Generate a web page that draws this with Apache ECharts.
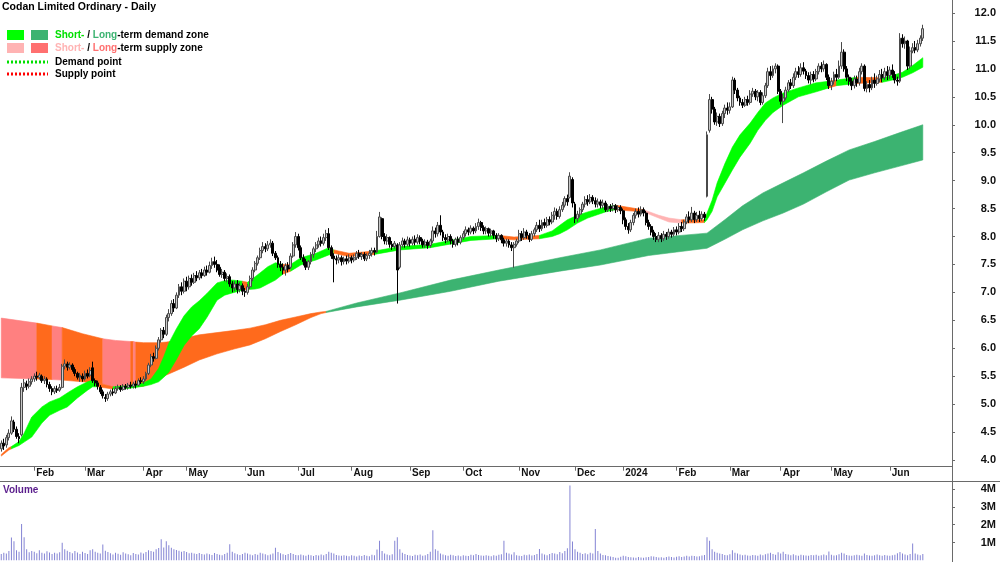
<!DOCTYPE html>
<html><head><meta charset="utf-8">
<script src="https://cdn.jsdelivr.net/npm/echarts@6/dist/echarts.min.js"></script>
<style>html,body{margin:0;padding:0;background:#fff}#c{width:1000px;height:562px}</style>
</head><body><div id="c"></div>
<script>
const chartTitle = 'Codan Limited Ordinary - Daily';
const holidays = ['2023-01-26','2023-04-07','2023-04-10','2023-04-25','2023-06-12','2023-12-25','2023-12-26','2024-01-01','2024-01-26','2024-03-29','2024-04-01','2024-04-25','2024-06-10'];
const firstDay = [2023, 0, 12];
const totalSlots = 375;
const monthNames = ['Jan','Feb','Mar','Apr','May','Jun','Jul','Aug','Sep','Oct','Nov','Dec'];
const priceTicks = [4.0,4.5,5.0,5.5,6.0,6.5,7.0,7.5,8.0,8.5,9.0,9.5,10.0,10.5,11.0,11.5,12.0];
const volumeTicks = [1e6,2e6,3e6,4e6];

// [open, close, low, high] per trading day
const candles = [
// Jan 2023
[4.20,4.30,4.15,4.35],[4.30,4.25,4.18,4.38],[4.27,4.40,4.22,4.45],[4.40,4.48,4.35,4.55],[4.48,4.70,4.45,4.78],
[4.68,4.55,4.50,4.72],[4.55,4.42,4.38,4.60],[4.42,4.38,4.30,4.48],[4.45,5.30,4.42,5.38],[5.30,5.38,5.22,5.45],
[5.36,5.32,5.25,5.42],[5.32,5.40,5.28,5.46],[5.40,5.45,5.35,5.50],
// Feb
[5.45,5.50,5.40,5.55],[5.50,5.48,5.42,5.58],[5.48,5.52,5.44,5.56],[5.50,5.42,5.38,5.53],[5.42,5.45,5.36,5.50],
[5.45,5.35,5.30,5.48],[5.35,5.28,5.22,5.40],[5.28,5.22,5.16,5.32],[5.22,5.28,5.18,5.32],[5.27,5.25,5.20,5.33],
[5.25,5.30,5.22,5.36],[5.30,5.68,5.28,5.72],[5.68,5.72,5.62,5.80],[5.72,5.66,5.60,5.76],[5.66,5.70,5.62,5.75],
[5.70,5.62,5.58,5.73],[5.62,5.55,5.50,5.66],[5.55,5.48,5.44,5.58],[5.48,5.52,5.40,5.56],[5.50,5.45,5.40,5.55],
// Mar
[5.45,5.55,5.42,5.60],[5.55,5.50,5.46,5.62],[5.52,5.60,5.48,5.66],[5.65,5.42,5.38,5.76],[5.42,5.38,5.32,5.46],
[5.38,5.32,5.26,5.42],[5.30,5.22,5.18,5.34],[5.22,5.15,5.10,5.26],[5.12,5.10,5.04,5.18],[5.10,5.18,5.06,5.22],
[5.18,5.22,5.14,5.26],[5.22,5.20,5.15,5.28],[5.20,5.28,5.18,5.32],[5.28,5.30,5.24,5.35],[5.30,5.26,5.22,5.34],
[5.26,5.32,5.24,5.36],[5.32,5.30,5.26,5.36],[5.30,5.34,5.26,5.38],[5.34,5.32,5.28,5.40],[5.32,5.36,5.28,5.40],
[5.36,5.34,5.28,5.42],[5.34,5.42,5.32,5.46],[5.42,5.40,5.36,5.48],
// Apr
[5.40,5.45,5.36,5.50],[5.45,5.55,5.42,5.58],[5.55,5.70,5.52,5.74],[5.70,5.85,5.66,5.90],[5.85,5.82,5.76,5.92],
[5.82,6.00,5.80,6.05],[6.00,6.15,5.96,6.20],[6.15,6.32,6.10,6.36],[6.32,6.25,6.18,6.38],[6.25,6.55,6.22,6.60],
[6.55,6.62,6.48,6.70],[6.62,6.80,6.58,6.86],[6.80,6.72,6.65,6.88],[6.72,6.95,6.70,7.00],[6.95,7.10,6.90,7.15],
[7.10,7.02,6.95,7.18],[7.02,7.20,6.98,7.25],
// May
[7.20,7.10,7.02,7.28],[7.10,7.25,7.05,7.30],[7.25,7.18,7.12,7.32],[7.18,7.30,7.15,7.35],[7.30,7.26,7.20,7.38],
[7.26,7.35,7.22,7.40],[7.35,7.30,7.25,7.42],[7.30,7.40,7.28,7.46],[7.40,7.36,7.30,7.48],[7.36,7.48,7.34,7.55],
[7.48,7.55,7.42,7.62],[7.55,7.50,7.44,7.64],[7.50,7.40,7.36,7.58],[7.45,7.32,7.28,7.50],[7.32,7.36,7.26,7.42],
[7.36,7.25,7.20,7.40],[7.25,7.28,7.18,7.34],[7.28,7.15,7.10,7.32],[7.15,7.08,7.00,7.20],[7.08,7.15,7.02,7.20],
[7.15,7.05,6.98,7.22],[7.05,7.12,7.00,7.18],[7.12,7.02,6.95,7.16],
// Jun
[7.02,7.00,6.92,7.08],[7.00,7.10,6.96,7.15],[7.10,7.25,7.06,7.30],[7.25,7.40,7.20,7.45],[7.40,7.52,7.36,7.56],
[7.52,7.62,7.48,7.66],[7.62,7.75,7.58,7.80],[7.75,7.82,7.70,7.90],[7.82,7.78,7.72,7.88],[7.78,7.85,7.74,7.92],
[7.85,7.88,7.80,7.95],[7.88,7.70,7.65,7.92],[7.70,7.62,7.58,7.74],[7.62,7.50,7.44,7.66],[7.50,7.45,7.38,7.56],
[7.45,7.40,7.32,7.52],[7.40,7.48,7.30,7.52],[7.48,7.42,7.36,7.54],[7.45,7.65,7.42,7.70],[7.65,7.85,7.62,7.90],
[7.85,8.00,7.80,8.08],
// Jul
[8.00,7.80,7.75,8.05],[7.80,7.62,7.58,7.84],[7.62,7.55,7.48,7.68],[7.55,7.45,7.40,7.60],[7.45,7.55,7.40,7.58],
[7.55,7.68,7.50,7.72],[7.68,7.78,7.62,7.82],[7.78,7.85,7.72,7.90],[7.85,7.92,7.80,7.98],[7.92,7.88,7.82,8.00],
[7.88,7.98,7.84,8.05],[7.98,8.05,7.92,8.12],[8.05,7.80,7.76,8.15],[7.80,7.65,7.60,7.84],[7.65,7.60,7.18,7.70],
[7.60,7.58,7.50,7.66],[7.58,7.62,7.52,7.68],[7.62,7.55,7.48,7.66],[7.55,7.60,7.50,7.64],[7.60,7.56,7.50,7.66],
[7.56,7.62,7.52,7.68],
// Aug
[7.62,7.58,7.52,7.66],[7.58,7.62,7.54,7.68],[7.62,7.70,7.58,7.74],[7.70,7.64,7.60,7.76],[7.64,7.68,7.58,7.72],
[7.68,7.60,7.56,7.72],[7.60,7.66,7.56,7.70],[7.66,7.70,7.60,7.76],[7.70,7.75,7.64,7.80],[7.75,7.72,7.66,7.80],
[7.72,8.00,7.70,8.10],[8.00,8.35,7.98,8.44],[8.32,8.00,7.95,8.34],[8.00,7.92,7.86,8.06],[7.92,7.98,7.85,8.04],
[7.98,7.86,7.80,8.00],[7.86,7.82,7.76,7.92],[7.82,7.88,7.78,7.92],[7.85,7.40,6.80,7.88],[7.45,7.85,7.42,7.90],
[7.85,7.92,7.80,7.98],[7.92,7.86,7.80,7.96],[7.86,7.94,7.82,8.00],
// Sep
[7.94,7.88,7.82,7.98],[7.88,7.95,7.84,8.00],[7.95,7.90,7.84,8.02],[7.90,7.98,7.86,8.04],[7.98,7.92,7.86,8.02],
[7.92,7.85,7.80,7.96],[7.85,7.90,7.80,7.95],[7.90,7.84,7.78,7.94],[7.84,7.92,7.80,7.96],[7.92,8.10,7.88,8.18],
[8.10,8.05,7.98,8.16],[8.05,8.20,8.00,8.26],[8.20,8.08,8.02,8.38],[8.08,7.98,7.92,8.12],[7.98,7.94,7.88,8.04],
[7.94,8.00,7.90,8.05],[8.00,7.92,7.86,8.04],[7.92,7.86,7.80,7.96],[7.86,7.95,7.82,7.98],[7.95,7.90,7.84,8.00],
[7.90,7.98,7.86,8.02],
// Oct
[7.98,8.05,7.94,8.10],[8.05,8.12,8.00,8.18],[8.12,8.08,8.02,8.16],[8.08,8.15,8.04,8.20],[8.15,8.10,8.04,8.18],
[8.10,8.18,8.06,8.24],[8.18,8.25,8.12,8.32],[8.25,8.16,8.10,8.28],[8.16,8.10,8.04,8.20],[8.10,8.14,8.04,8.18],
[8.14,8.06,8.00,8.16],[8.06,8.10,8.00,8.14],[8.10,8.02,7.96,8.12],[8.02,7.96,7.90,8.06],[7.96,8.02,7.92,8.06],
[8.02,7.94,7.88,8.04],[7.94,7.88,7.82,7.98],[7.88,7.92,7.82,7.96],[7.92,7.85,7.80,7.95],[7.85,7.80,7.74,7.90],
[7.80,7.86,7.44,7.90],[7.86,7.92,7.82,7.96],
// Nov
[7.92,8.05,7.88,8.12],[8.05,7.98,7.92,8.10],[7.98,8.08,7.94,8.15],[8.08,8.02,7.96,8.12],[8.02,7.95,7.90,8.06],
[7.95,8.05,7.92,8.10],[8.05,8.12,8.00,8.16],[8.12,8.20,8.08,8.26],[8.20,8.14,8.08,8.30],[8.14,8.25,8.10,8.30],
[8.25,8.20,8.15,8.32],[8.20,8.30,8.16,8.35],[8.30,8.26,8.20,8.36],[8.26,8.38,8.22,8.44],[8.38,8.45,8.30,8.52],
[8.45,8.36,8.30,8.50],[8.36,8.48,8.32,8.54],[8.48,8.56,8.44,8.62],[8.56,8.68,8.52,8.72],[8.68,8.62,8.55,8.75],
[8.70,9.08,8.68,9.15],[9.02,8.60,8.52,9.06],
// Dec
[8.58,8.32,8.24,8.62],[8.32,8.40,8.26,8.46],[8.40,8.48,8.34,8.52],[8.48,8.58,8.44,8.62],[8.58,8.66,8.52,8.72],
[8.66,8.62,8.55,8.74],[8.62,8.70,8.58,8.76],[8.70,8.64,8.58,8.74],[8.64,8.58,8.52,8.70],[8.58,8.62,8.52,8.68],
[8.62,8.56,8.50,8.66],[8.56,8.60,8.50,8.66],[8.60,8.48,8.44,8.64],[8.48,8.54,8.44,8.58],[8.54,8.50,8.44,8.58],
[8.50,8.55,8.45,8.60],[8.55,8.48,8.42,8.58],[8.48,8.52,8.44,8.56],[8.52,8.46,8.40,8.56],
// Jan 2024
[8.46,8.30,8.22,8.50],[8.30,8.18,8.12,8.34],[8.18,8.12,8.05,8.24],[8.12,8.25,8.08,8.30],[8.25,8.38,8.20,8.42],
[8.38,8.45,8.32,8.50],[8.45,8.40,8.34,8.52],[8.40,8.48,8.36,8.54],[8.48,8.42,8.36,8.52],[8.42,8.25,8.20,8.46],
[8.25,8.18,8.12,8.30],[8.18,8.08,8.02,8.22],[8.08,8.00,7.94,8.12],[8.00,7.95,7.90,8.06],[7.95,8.02,7.90,8.08],
[8.02,7.96,7.90,8.06],[7.96,8.04,7.92,8.10],[8.04,8.00,7.94,8.08],[8.00,8.08,7.96,8.14],[8.08,8.04,7.98,8.12],
[8.04,8.12,8.00,8.17],
// Feb
[8.12,8.08,8.02,8.18],[8.08,8.18,8.04,8.24],[8.18,8.14,8.08,8.26],[8.14,8.26,8.10,8.30],[8.26,8.35,8.22,8.40],
[8.35,8.30,8.24,8.45],[8.30,8.42,8.26,8.53],[8.42,8.30,8.24,8.46],[8.30,8.38,8.26,8.44],[8.38,8.32,8.26,8.46],
[8.32,8.40,8.28,8.45],[8.40,8.34,8.28,8.44],[8.72,9.82,8.70,9.88],[9.90,10.45,9.86,10.55],[10.45,10.28,10.20,10.50],
[10.28,10.05,10.00,10.32],[10.05,10.15,9.98,10.22],[10.15,10.02,9.96,10.20],[10.02,10.20,9.98,10.25],[10.20,10.30,10.12,10.36],
[10.30,10.26,10.18,10.40],
// Mar
[10.26,10.32,10.20,10.40],[10.32,10.80,10.30,10.86],[10.80,10.62,10.55,10.84],[10.62,10.48,10.42,10.66],[10.48,10.40,10.34,10.52],
[10.40,10.35,10.30,10.46],[10.35,10.45,10.32,10.50],[10.45,10.40,10.34,10.52],[10.40,10.55,10.36,10.62],[10.55,10.60,10.50,10.66],
[10.60,10.50,10.44,10.64],[10.50,10.58,10.42,10.62],[10.58,10.40,10.35,10.62],[10.40,10.52,10.36,10.58],[10.52,10.70,10.48,10.75],
[10.70,10.95,10.66,11.02],[10.95,10.88,10.80,11.05],[10.88,11.00,10.84,11.06],[11.00,11.05,10.92,11.10],[11.05,10.60,10.55,11.08],
// Apr
[10.60,10.42,10.36,10.64],[10.42,10.48,10.03,10.55],[10.48,10.62,10.44,10.68],[10.62,10.75,10.58,10.80],[10.75,10.70,10.64,10.82],
[10.70,10.85,10.66,10.92],[10.85,10.95,10.80,11.02],[10.95,10.90,10.84,11.05],[10.90,11.02,10.86,11.10],[11.02,10.96,10.90,11.12],
[10.96,10.88,10.82,11.00],[10.88,10.80,10.74,10.94],[10.80,10.90,10.72,10.95],[10.90,10.82,10.76,10.96],[10.82,10.95,10.78,11.00],
[10.95,11.05,10.90,11.10],[11.05,11.00,10.94,11.12],[11.00,11.08,10.95,11.15],[11.08,10.85,10.80,11.10],[10.85,10.70,10.64,10.90],
// May
[10.70,10.78,10.62,10.84],[10.78,10.90,10.72,10.95],[10.90,10.85,10.78,11.00],[10.85,11.05,10.82,11.15],[11.05,11.30,11.00,11.48],
[11.30,11.00,10.95,11.35],[11.00,10.85,10.78,11.05],[10.85,10.78,10.70,10.90],[10.78,10.70,10.62,10.84],[10.70,10.82,10.65,10.88],
[10.82,10.75,10.68,10.88],[10.75,10.95,10.70,11.02],[10.95,11.05,10.90,11.10],[11.05,10.65,10.60,11.08],[10.65,10.72,10.58,10.78],
[10.72,10.66,10.58,10.80],[10.66,10.80,10.62,10.86],[10.80,10.74,10.66,10.92],[10.74,10.82,10.70,10.88],[10.82,10.90,10.76,10.98],
[10.90,10.84,10.76,11.00],[10.84,10.95,10.80,11.02],[10.95,10.88,10.80,11.05],
// Jun
[10.88,10.98,10.82,11.04],[10.98,10.90,10.84,11.08],[10.90,10.80,10.74,10.96],[10.80,10.78,10.70,10.86],[10.78,11.55,10.75,11.64],
[11.55,11.45,11.38,11.62],[11.45,11.50,11.36,11.58],[11.50,11.05,10.98,11.52],[11.05,11.32,11.00,11.40],[11.32,11.38,11.28,11.46],
[11.38,11.34,11.28,11.50],[11.34,11.45,11.30,11.52],[11.45,11.55,11.40,11.60],[11.55,11.72,11.50,11.79]
];

// daily volume, thousands of shares
const volumeK = [
350,420,380,520,1280,1070,560,480,2040,1300,620,450,520,480,390,560,430,380,510,440,
360,420,380,450,980,620,540,470,390,520,440,360,480,410,350,560,620,480,420,380,
890,540,460,390,330,420,370,310,450,380,340,290,410,360,330,440,380,470,560,520,
480,620,690,1180,720,1070,850,700,620,580,540,480,520,460,390,420,380,350,410,360,
320,380,340,300,410,350,310,290,360,420,900,480,390,340,300,360,420,380,330,290,
350,310,420,380,340,290,330,380,700,460,390,340,300,360,410,350,300,280,330,290,
260,310,280,240,300,270,330,290,350,480,420,380,300,270,250,290,260,230,280,250,
220,270,240,300,260,230,310,280,600,1100,520,380,320,290,340,1100,1300,620,420,350,
300,270,240,310,280,330,260,290,350,480,1690,620,540,380,320,290,260,310,280,240,
270,230,290,260,240,310,280,350,300,270,250,290,260,230,280,250,310,340,1100,420,
380,320,450,290,260,240,310,280,330,270,300,350,630,380,320,290,350,410,380,340,
460,390,520,680,4200,1060,620,480,420,360,390,340,420,380,1760,520,380,300,280,240,
220,180,150,140,200,260,230,190,170,160,150,180,160,140,170,190,230,210,180,160,
170,150,190,210,180,160,200,230,190,210,250,220,260,240,210,230,270,300,1300,1100,
620,480,420,380,350,300,280,340,570,420,380,330,290,310,270,260,300,280,250,320,
290,340,380,420,360,310,450,380,480,360,320,290,340,280,260,310,290,270,250,300,
280,310,260,290,330,280,500,310,270,290,340,420,380,300,270,250,280,310,290,260,
380,300,270,250,290,320,280,260,300,270,250,280,310,400,460,380,320,290,350,940,
380,320,280,350
];

// zone bands: [tradingDay, lower, upper, zone]  G=short demand, D=long demand, P=short supply, R=long supply, O=supply/overlap
const shortBand = [
[0,4.07,4.10,'O'],[3,4.18,4.22,'O'],[4,4.20,4.24,'G'],[7,4.26,4.33,'G'],[9,4.32,4.48,'G'],[12,4.41,4.77,'G'],
[16,4.66,4.95,'G'],[19,4.80,5.04,'G'],[23,4.89,5.11,'G'],[26,4.95,5.20,'G'],[30,5.11,5.31,'G'],[34,5.25,5.40,'G'],
[36,5.31,5.43,'G'],[38,5.31,5.38,'O'],[44,5.27,5.31,'G'],[50,5.28,5.33,'G'],[56,5.32,5.38,'G'],[59,5.35,5.45,'G'],
[62,5.40,5.64,'G'],[64,5.48,5.85,'G'],[66,5.57,6.09,'G'],[69,5.80,6.35,'G'],[72,6.05,6.58,'G'],[75,6.22,6.74,'G'],
[78,6.35,6.85,'G'],[81,6.55,6.98,'G'],[85,6.86,7.17,'G'],[88,6.95,7.21,'G'],[91,6.99,7.22,'G'],
[95,7.04,7.20,'O'],[97,7.05,7.18,'G'],[100,7.06,7.28,'G'],[102,7.08,7.35,'G'],[105,7.15,7.46,'G'],[108,7.22,7.53,'G'],
[111,7.33,7.50,'O'],[114,7.38,7.50,'G'],[118,7.49,7.62,'G'],[121,7.54,7.66,'G'],[124,7.58,7.70,'G'],[129,7.67,7.80,'G'],
[131,7.70,7.76,'O'],[137,7.64,7.70,'O'],[147,7.68,7.74,'G'],
[157,7.76,7.82,'G'],[169,7.80,7.86,'G'],[185,7.93,8.00,'G'],[196,7.96,8.02,'O'],[202,7.94,7.99,'O'],[212,7.96,8.02,'G'],
[217,8.00,8.10,'G'],[220,8.05,8.20,'G'],[223,8.12,8.30,'G'],[227,8.24,8.38,'G'],[231,8.33,8.44,'G'],[238,8.44,8.53,'G'],
[242,8.48,8.56,'O'],[250,8.45,8.50,'O'],
[253,8.44,8.48,'P'],[259,8.33,8.38,'P'],[263,8.26,8.33,'P'],[268,8.24,8.30,'O'],[277,8.25,8.30,'G'],[278,8.30,8.42,'G'],
[280,8.45,8.65,'G'],[282,8.71,8.96,'G'],[285,8.95,9.30,'G'],[288,9.19,9.60,'G'],[291,9.42,9.82,'G'],[295,9.67,10.03,'G'],
[298,9.90,10.22,'G'],[301,10.08,10.39,'G'],[304,10.22,10.48,'G'],[308,10.35,10.57,'G'],[314,10.50,10.66,'G'],
[321,10.59,10.75,'G'],[326,10.66,10.78,'O'],[329,10.70,10.80,'G'],[337,10.74,10.85,'O'],[347,10.76,10.84,'G'],[351,10.80,10.88,'G'],
[355,10.85,10.94,'G'],[359,10.93,11.06,'G'],[363,11.03,11.20,'G']
];
const longBand = [
[0,5.47,6.54,'R'],[14,5.45,6.45,'O'],[20,5.44,6.40,'R'],[24,5.43,6.37,'O'],[32,5.40,6.26,'O'],[40,5.36,6.17,'R'],[45,5.29,6.14,'R'],
[51,5.30,6.12,'O'],[52,5.30,6.12,'R'],[53,5.31,6.11,'O'],[56,5.32,6.10,'O'],[59,5.38,6.10,'O'],[62,5.44,6.10,'O'],[65,5.52,6.11,'O'],
[68,5.58,6.13,'O'],[72,5.66,6.18,'O'],[78,5.79,6.24,'O'],[85,5.90,6.28,'O'],[92,5.99,6.32,'O'],[98,6.06,6.36,'O'],[104,6.17,6.42,'O'],
[110,6.30,6.50,'O'],[116,6.42,6.56,'O'],[122,6.55,6.62,'O'],[126,6.62,6.65,'O'],[128,6.64,6.66,'D'],
[140,6.74,6.81,'D'],[157,6.86,6.99,'D'],[177,7.02,7.22,'D'],[196,7.20,7.40,'D'],[220,7.38,7.62,'D'],[236,7.49,7.76,'D'],[255,7.66,7.97,'D'],
[278,7.79,8.06,'D'],[285,7.95,8.30,'D'],[292,8.12,8.55,'D'],[300,8.28,8.78,'D'],[308,8.42,8.96,'D'],[316,8.58,9.14,'D'],
[325,8.80,9.35,'D'],[334,9.01,9.55,'D'],[344,9.14,9.70,'D'],[354,9.26,9.86,'D'],[363,9.37,10.00,'D']
];

const zoneColors = {G:'#00ff00', D:'#3cb371', P:'#ffb3b3', R:'#ff8080', O:'#ff6a1c'};

// trading-day calendar (weekdays minus exchange holidays)
const dates = [];
(function(){
  let t = Date.UTC(firstDay[0], firstDay[1], firstDay[2]);
  while (dates.length < totalSlots) {
    const d = new Date(t);
    const wd = d.getUTCDay();
    const s = d.toISOString().slice(0,10);
    if (wd !== 0 && wd !== 6 && holidays.indexOf(s) < 0) dates.push(s);
    t += 86400000;
  }
})();
function isMonthStart(i){ return i > 0 && i < candles.length && dates[i].slice(5,7) !== dates[i-1].slice(5,7); }

// one polygon per run of equal zone colour (avoids seams)
function bandSeries(band, z){
  return {
    type:'custom', xAxisIndex:0, yAxisIndex:0, z:z, silent:true, clip:true,
    data: band.map(b => [b[0], b[1], b[2]]),
    encode:{x:0, y:[1,2]},
    renderItem: function(params, api){
      const k = params.dataIndex;
      const empty = {type:'group', children:[]};
      if (k >= band.length - 1) return empty;
      if (k > 0 && band[k-1][3] === band[k][3]) return empty;
      let j = k + 1;
      while (j < band.length - 1 && band[j][3] === band[k][3]) j++;
      const top = [], bot = [];
      for (let m = k; m <= j; m++) {
        top.push(api.coord([band[m][0], band[m][2]]));
        bot.push(api.coord([band[m][0], band[m][1]]));
      }
      const col = zoneColors[band[k][3]];
      return {
        type:'polygon',
        shape:{points: top.concat(bot.reverse())},
        style:{fill:col, stroke:col, lineWidth:0.6}
      };
    }
  };
}

const FONT = '"Liberation Sans", Arial, sans-serif';
const TXT = 'bold 10px ' + FONT;
const chart = echarts.init(document.getElementById('c'), null, {renderer:'canvas'});
chart.setOption({
  animation:false,
  backgroundColor:'#ffffff',
  grid:[
    {left:0, top:0, width:952, height:466.7},
    {left:0, top:481, width:952, height:79.3}
  ],
  xAxis:[
    {type:'category', gridIndex:0, data:dates, boundaryGap:true,
     axisLine:{show:true, lineStyle:{color:'#6a6a6a', width:1}},
     axisTick:{show:true, alignWithLabel:true, interval:(i)=>isMonthStart(i), length:4, lineStyle:{color:'#6a6a6a'}},
     axisLabel:{show:true, interval:(i)=>isMonthStart(i),
       formatter:(v)=>{const m=+v.slice(5,7); return m===1 ? v.slice(0,4) : monthNames[m-1];},
       align:'left', padding:[0,0,0,2], margin:2, fontSize:10, fontWeight:'bold', color:'#111', fontFamily:FONT},
     splitLine:{show:false}},
    {type:'category', gridIndex:1, data:dates, boundaryGap:true,
     axisLine:{show:false}, axisTick:{show:false}, axisLabel:{show:false}, splitLine:{show:false}}
  ],
  yAxis:[
    {type:'value', gridIndex:0, position:'right', min:3.88, max:12.233, scale:true,
     axisLine:{show:false}, splitLine:{show:false},
     axisTick:{show:true, customValues:priceTicks, length:3, lineStyle:{color:'#6a6a6a'}},
     axisLabel:{customValues:priceTicks, formatter:(v)=>v.toFixed(1), align:'right', margin:44,
       fontSize:11, fontWeight:'bold', color:'#111', fontFamily:FONT}},
    {type:'value', gridIndex:1, position:'right', min:0, max:4.45e6,
     axisLine:{show:false}, splitLine:{show:false},
     axisTick:{show:true, customValues:volumeTicks, length:3, lineStyle:{color:'#6a6a6a'}},
     axisLabel:{customValues:volumeTicks, formatter:(v)=>(v/1e6)+'M', align:'right', margin:44,
       fontSize:11, fontWeight:'bold', color:'#111', fontFamily:FONT}}
  ],
  series:[
    bandSeries(longBand, 1),
    bandSeries(shortBand, 2),
    {type:'candlestick', xAxisIndex:0, yAxisIndex:0, z:5, data:candles, barWidth:2.4,
     itemStyle:{color:'#c8c8c8', color0:'#000000', borderColor:'#4a4a4a', borderColor0:'#000000', borderWidth:1}},
    {type:'bar', xAxisIndex:1, yAxisIndex:1, data:volumeK.map(v=>v*1000), barWidth:1,
     itemStyle:{color:'#8484d4'}}
  ],
  graphic:[
    {type:'line', shape:{x1:952.5, y1:0, x2:952.5, y2:562}, style:{stroke:'#6a6a6a', lineWidth:1}, z:10},
    {type:'line', shape:{x1:0, y1:481.5, x2:1000, y2:481.5}, style:{stroke:'#6a6a6a', lineWidth:1}, z:10},
    {type:'text', x:2, y:7, style:{text:chartTitle, font:'bold 10.5px '+FONT, fill:'#000', textVerticalAlign:'middle', verticalAlign:'middle'}, z:10},
    {type:'rect', shape:{x:7, y:30, width:17, height:10}, style:{fill:'#00ff00'}, z:10},
    {type:'rect', shape:{x:31, y:30, width:17, height:10}, style:{fill:'#3cb371'}, z:10},
    {type:'rect', shape:{x:7, y:43, width:17, height:10}, style:{fill:'#ffb3b3'}, z:10},
    {type:'rect', shape:{x:31, y:43, width:17, height:10}, style:{fill:'#ff7070'}, z:10},
    {type:'line', shape:{x1:7, y1:62, x2:48, y2:62}, style:{stroke:'#00e000', lineWidth:3, lineDash:[2,2]}, z:10},
    {type:'line', shape:{x1:7, y1:74, x2:48, y2:74}, style:{stroke:'#ff0000', lineWidth:3, lineDash:[2,2]}, z:10},
    {type:'text', x:55, y:35.5, style:{text:'{g|Short-} / {d|Long}-term demand zone', font:TXT, fill:'#000',
      textVerticalAlign:'middle', verticalAlign:'middle',
      rich:{g:{fill:'#00e000', font:TXT}, d:{fill:'#3cb371', font:TXT}}}, z:10},
    {type:'text', x:55, y:48, style:{text:'{p|Short-} / {r|Long}-term supply zone', font:TXT, fill:'#000',
      textVerticalAlign:'middle', verticalAlign:'middle',
      rich:{p:{fill:'#ffb3b3', font:TXT}, r:{fill:'#ff7070', font:TXT}}}, z:10},
    {type:'text', x:55, y:62, style:{text:'Demand point', font:TXT, fill:'#000', textVerticalAlign:'middle', verticalAlign:'middle'}, z:10},
    {type:'text', x:55, y:74, style:{text:'Supply point', font:TXT, fill:'#000', textVerticalAlign:'middle', verticalAlign:'middle'}, z:10},
    {type:'text', x:3, y:490, style:{text:'Volume', font:TXT, fill:'#5a1d8c', textVerticalAlign:'middle', verticalAlign:'middle'}, z:10}
  ]
});
</script>
</body></html>
